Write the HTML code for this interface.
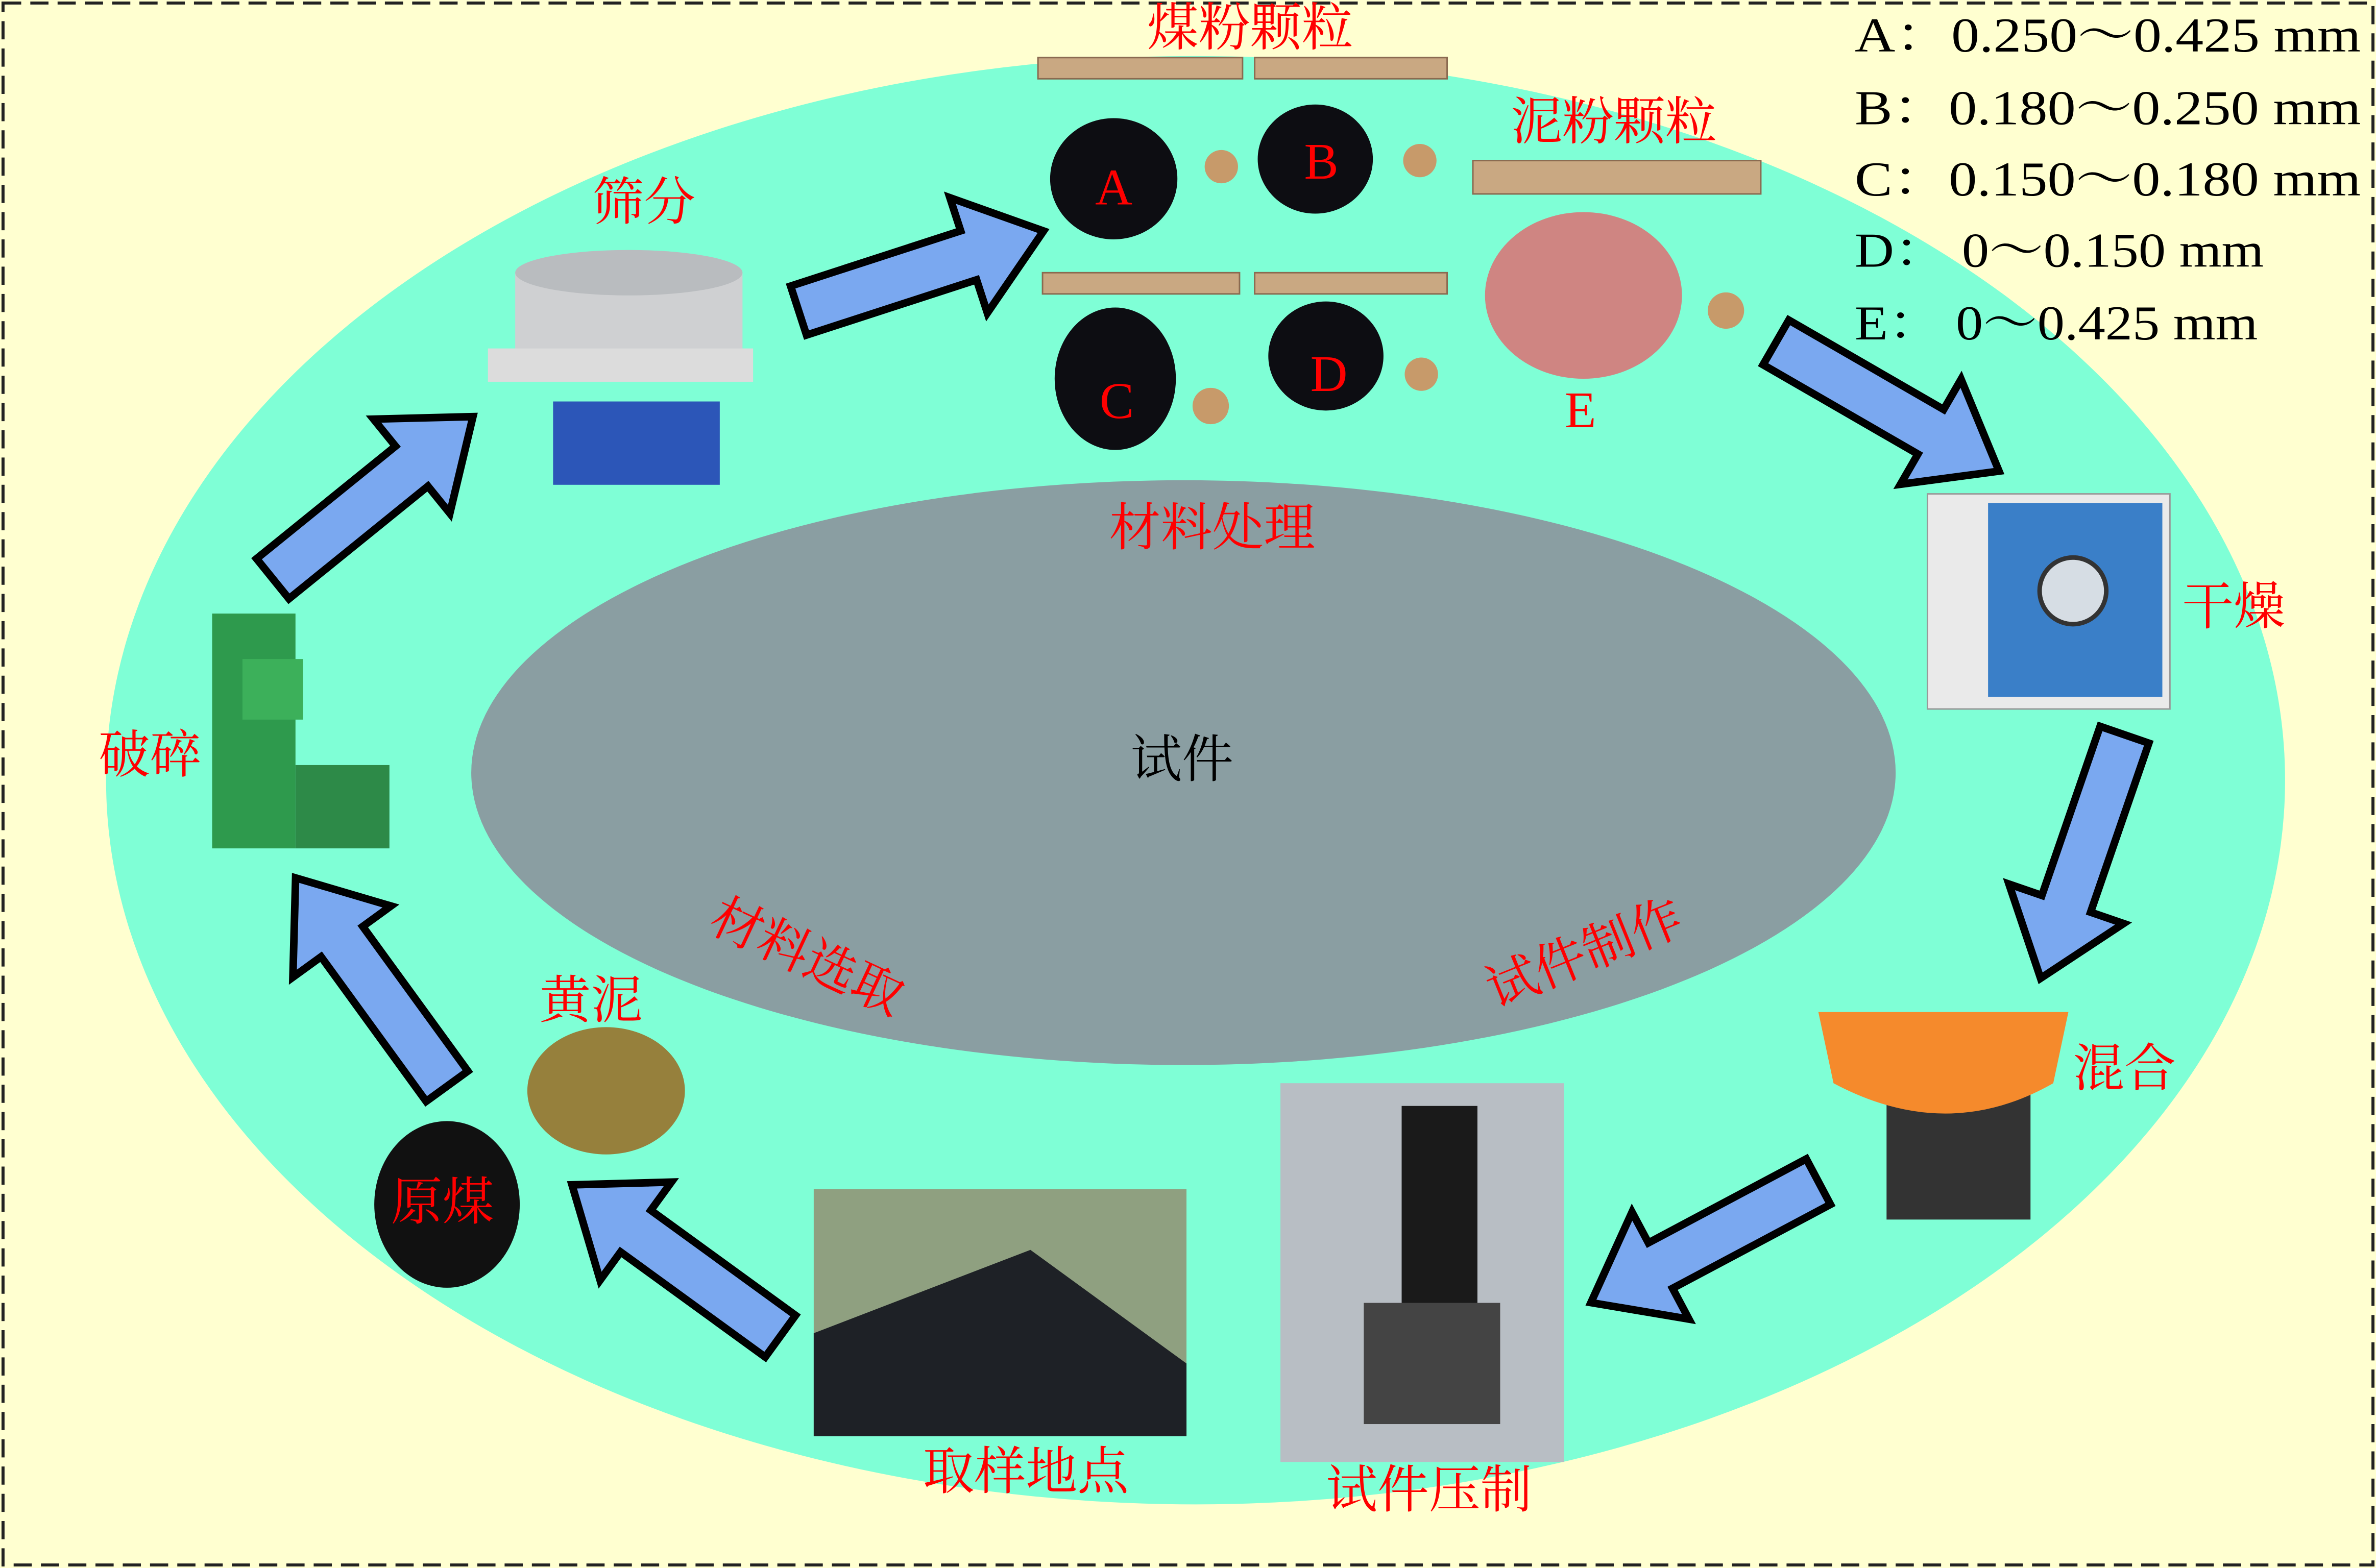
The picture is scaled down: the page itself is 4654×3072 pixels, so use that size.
<!DOCTYPE html>
<html><head><meta charset="utf-8"><style>html,body{margin:0;padding:0;background:#ffffd0}svg{display:block}</style></head><body>
<svg width="4654" height="3072" viewBox="0 0 1568 1035" preserveAspectRatio="none" xmlns="http://www.w3.org/2000/svg" font-family="'Liberation Serif','Noto Serif CJK SC',serif">
<rect x="0" y="0" width="1568" height="1035" fill="#ffffd0"/>
<rect x="2" y="2" width="1564" height="1031" fill="none" stroke="#222" stroke-width="2" stroke-dasharray="12,6"/>
<ellipse cx="789" cy="515" rx="719" ry="478" fill="#7fffd6"/>
<ellipse cx="781" cy="510" rx="470" ry="193" fill="#8a9ea2"/>
<defs>
<polygon id="ar" points="0,-17 -0,17 118,17 118,40 170,0 118,-40 118,-17" fill="#7aa8f0" stroke="#000" stroke-width="5" stroke-linejoin="miter"/>
</defs>
<use href="#ar" transform="translate(527,205) rotate(-18)"/>
<use href="#ar" transform="translate(1172,226) rotate(30)"/>
<use href="#ar" transform="translate(1402,485) rotate(109)"/>
<use href="#ar" transform="translate(1200,780) rotate(152)"/>
<use href="#ar" transform="translate(515,882) rotate(216)"/>
<use href="#ar" transform="translate(295,717) rotate(234)"/>
<use href="#ar" transform="translate(180,382) rotate(-39)"/>
<g fill="#c9a882" stroke="#8a6a50" stroke-width="1">
<rect x="685" y="38" width="135" height="14"/><rect x="828" y="38" width="127" height="14"/>
<rect x="972" y="106" width="190" height="22"/><rect x="688" y="180" width="130" height="14"/><rect x="828" y="180" width="127" height="14"/>
</g>
<g fill="#0d0d12">
<ellipse cx="735" cy="118" rx="42" ry="40"/><ellipse cx="868" cy="105" rx="38" ry="36"/>
<ellipse cx="736" cy="250" rx="40" ry="47"/><ellipse cx="875" cy="235" rx="38" ry="36"/>
</g>
<g fill="#c79a6a"><circle cx="806" cy="110" r="11"/><circle cx="937" cy="106" r="11"/><circle cx="799" cy="268" r="12"/><circle cx="938" cy="247" r="11"/><circle cx="1139" cy="205" r="12"/></g>
<ellipse cx="1045" cy="195" rx="65" ry="55" fill="#cf8582"/>
<rect x="340" y="180" width="150" height="70" fill="#cfd0d2"/>
<ellipse cx="415" cy="180" rx="75" ry="15" fill="#b9bcbf"/>
<rect x="322" y="230" width="175" height="22" fill="#dcdcdc"/>
<rect x="365" y="265" width="110" height="55" fill="#2c56b8"/>
<rect x="140" y="405" width="55" height="155" fill="#2e9a4d"/>
<rect x="160" y="435" width="40" height="40" fill="#3cb05a"/>
<rect x="195" y="505" width="62" height="55" fill="#2d8a48"/>
<rect x="1272" y="326" width="160" height="142" fill="#eaeaea" stroke="#999"/>
<rect x="1312" y="332" width="115" height="128" fill="#3a7fc8"/>
<circle cx="1368" cy="390" r="22" fill="#d6dde4" stroke="#333" stroke-width="3"/>
<rect x="1245" y="720" width="95" height="85" fill="#333"/>
<path d="M1200,668 L1365,668 L1355,715 Q1285,755 1210,715 Z" fill="#f58a2c"/>
<rect x="845" y="715" width="187" height="250" fill="#b8bec4"/>
<rect x="925" y="730" width="50" height="200" fill="#1a1a1a"/>
<rect x="900" y="860" width="90" height="80" fill="#444"/>
<rect x="537" y="785" width="246" height="163" fill="#8fa080"/>
<polygon points="537,880 680,825 783,900 783,948 537,948" fill="#1e2126"/>
<ellipse cx="400" cy="720" rx="52" ry="42" fill="#96803c"/>
<ellipse cx="295" cy="795" rx="48" ry="55" fill="#111"/>
<g fill="#ff0000" font-size="34">
<text x="825" y="30" text-anchor="middle">煤粉颗粒</text>
<text x="1065" y="92" text-anchor="middle">泥粉颗粒</text>
<text x="425" y="145" text-anchor="middle">筛分</text>
<text x="800" y="360" text-anchor="middle">材料处理</text>
<text x="1440" y="412">干燥</text>
<text x="65" y="510">破碎</text>
<text x="1368" y="717">混合</text>
<text x="390" y="672" text-anchor="middle">黄泥</text>
<text x="292" y="805" text-anchor="middle">原煤</text>
<text x="677" y="983" text-anchor="middle">取样地点</text>
<text x="943" y="995" text-anchor="middle">试件压制</text>
<text transform="translate(528,642) rotate(25)" text-anchor="middle">材料选取</text>
<text transform="translate(1050,640) rotate(-22)" text-anchor="middle">试件制作</text>
<text x="735" y="135" text-anchor="middle">A</text>
<text x="872" y="118" text-anchor="middle">B</text>
<text x="737" y="276" text-anchor="middle">C</text>
<text x="877" y="258" text-anchor="middle">D</text>
<text x="1043" y="282" text-anchor="middle">E</text>
</g>
<text x="780" y="513" text-anchor="middle" font-size="34" fill="#000">试件</text>
<g fill="#000" font-size="32">
<text x="1224" y="34" textLength="334" lengthAdjust="spacingAndGlyphs">A：0.250～0.425 mm</text>
<text x="1224" y="82" textLength="334" lengthAdjust="spacingAndGlyphs">B：0.180～0.250 mm</text>
<text x="1224" y="129" textLength="334" lengthAdjust="spacingAndGlyphs">C：0.150～0.180 mm</text>
<text x="1224" y="176" textLength="270" lengthAdjust="spacingAndGlyphs">D：  0～0.150 mm</text>
<text x="1224" y="224" textLength="266" lengthAdjust="spacingAndGlyphs">E：  0～0.425 mm</text>
</g>
</svg>
</body></html>
